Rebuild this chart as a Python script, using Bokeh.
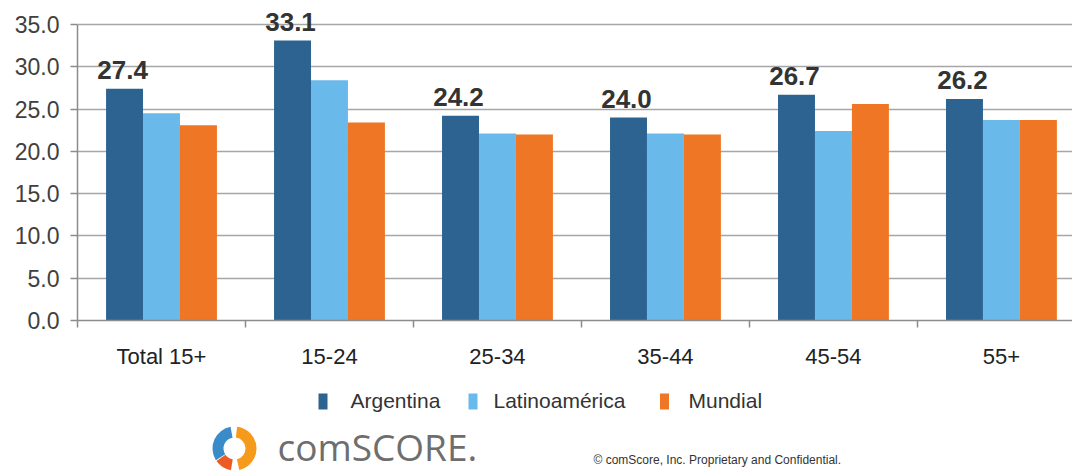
from bokeh.plotting import figure
from bokeh.models import (ColumnDataSource, Range1d, FixedTicker, LabelSet,
                          PrintfTickFormatter)
from bokeh.layouts import column
from bokeh.core.properties import value
from bokeh.embed import file_html
from bokeh.resources import INLINE

categories = ["Total 15+", "15-24", "25-34", "35-44", "45-54", "55+"]
argentina = [27.4, 33.1, 24.2, 24.0, 26.7, 26.2]
latinoamerica = [24.5, 28.4, 22.1, 22.1, 22.4, 23.7]
mundial = [23.1, 23.4, 22.0, 22.0, 25.6, 23.7]
series_names = ["Argentina", "Latinoamérica", "Mundial"]
colors = ["#2D6391", "#69B9EB", "#EE7624"]
y_ticks = [0, 5, 10, 15, 20, 25, 30, 35]

FONT = "Liberation Sans"
centers = [i + 0.5 for i in range(len(categories))]
bounds = [float(i) for i in range(len(categories) + 1)]
bw = 0.22
offsets = [-bw, 0.0, bw]

p = figure(width=1072, height=380, output_backend="svg", toolbar_location=None,
           x_range=Range1d(0, 5.923), y_range=Range1d(0, 37.84),
           min_border_left=77, min_border_right=0, min_border_top=0,
           min_border_bottom=60)
p.outline_line_color = None
p.background_fill_color = "white"
p.border_fill_color = "white"

for vals, off, col in zip([argentina, latinoamerica, mundial], offsets, colors):
    src = ColumnDataSource(dict(x=[c + off for c in centers], top=vals))
    p.vbar(x="x", top="top", width=bw, bottom=0, source=src,
           fill_color=col, line_color=None)

# data labels on Argentina
lab_src = ColumnDataSource(dict(x=[c + offsets[0] for c in centers], y=argentina,
                                t=["%.1f" % v for v in argentina]))
labels = LabelSet(x="x", y="y", text="t", source=lab_src, y_offset=10,
                  x_offset=-2,
                  text_align="center", text_baseline="bottom",
                  text_font=value(FONT), text_font_style="bold",
                  text_font_size="26px", text_color="#333333")
p.add_layout(labels)

# axes
p.xaxis.ticker = FixedTicker(ticks=centers, minor_ticks=bounds)
p.xaxis.major_label_overrides = {c: n for c, n in zip(centers, categories)}
p.xaxis.major_tick_out = 0
p.xaxis.major_tick_in = 0
p.xaxis.minor_tick_out = 7
p.xaxis.minor_tick_in = 0
p.xaxis.minor_tick_line_color = "#8c8c8c"
p.xaxis.minor_tick_line_width = 1.5
p.xaxis.axis_line_color = "#8c8c8c"
p.xaxis.axis_line_width = 1.5
p.xaxis.major_label_text_font = FONT
p.xaxis.major_label_text_font_size = "22px"
p.xaxis.major_label_text_color = "#222222"
p.xaxis.major_label_standoff = 16

p.yaxis.ticker = FixedTicker(ticks=y_ticks)
p.yaxis.bounds = (0, 35)
p.yaxis.formatter = PrintfTickFormatter(format="%.1f")
p.yaxis.major_tick_out = 7
p.yaxis.major_tick_in = 0
p.yaxis.minor_tick_line_color = None
p.yaxis.major_tick_line_color = "#8c8c8c"
p.yaxis.major_tick_line_width = 1.5
p.yaxis.axis_line_color = "#8c8c8c"
p.yaxis.axis_line_width = 1.5
p.yaxis.major_label_text_font = FONT
p.yaxis.major_label_text_font_size = "23px"
p.yaxis.major_label_text_color = "#404040"
p.yaxis.major_label_standoff = 11

p.xgrid.grid_line_color = None
p.ygrid.ticker = FixedTicker(ticks=y_ticks)
p.ygrid.grid_line_color = "#a6a6a6"
p.ygrid.grid_line_width = 1.5

# footer: legend, logo and copyright (data units = screen pixels from bottom)
f = figure(width=1072, height=92, output_backend="svg", toolbar_location=None,
           x_range=Range1d(77, 1072), y_range=Range1d(0, 92),
           min_border_left=77, min_border_right=0,
           min_border_top=0, min_border_bottom=0)
f.axis.visible = False
f.grid.visible = False
f.outline_line_color = None
f.background_fill_color = "white"
f.border_fill_color = "white"

marker_x = [322.5, 472.5, 664]
label_x = [350, 493, 688]
f.rect(x=marker_x, y=[71] * 3, width=9, height=16, fill_color=colors, line_color=None)
f.text(x=label_x, y=[72] * 3, text=series_names, text_font=value(FONT),
       text_font_size="21px", text_color="#333333", text_baseline="middle")

f.annular_wedge(x=[234, 234, 234], y=[24, 24, 24], inner_radius=11, outer_radius=22,
                start_angle=[-1.35, 1.75, 3.75], end_angle=[1.45, 3.7, 4.55],
                fill_color=["#F59A1B", "#3A8CC8", "#EE5A24"], line_color=None)
f.text(x=[277], y=[26], text=["comSCORE."], text_font=value("Open Sans"),
       text_font_size="37px", text_color="#6e6e6e", text_baseline="middle")
f.text(x=[593], y=[13], text=["© comScore, Inc.  Proprietary and Confidential."],
       text_font=value(FONT), text_font_size="12px", text_color="#333333",
       text_baseline="middle")

layout = column(p, f, spacing=0)
open("out.html", "w").write(file_html(layout, INLINE))
